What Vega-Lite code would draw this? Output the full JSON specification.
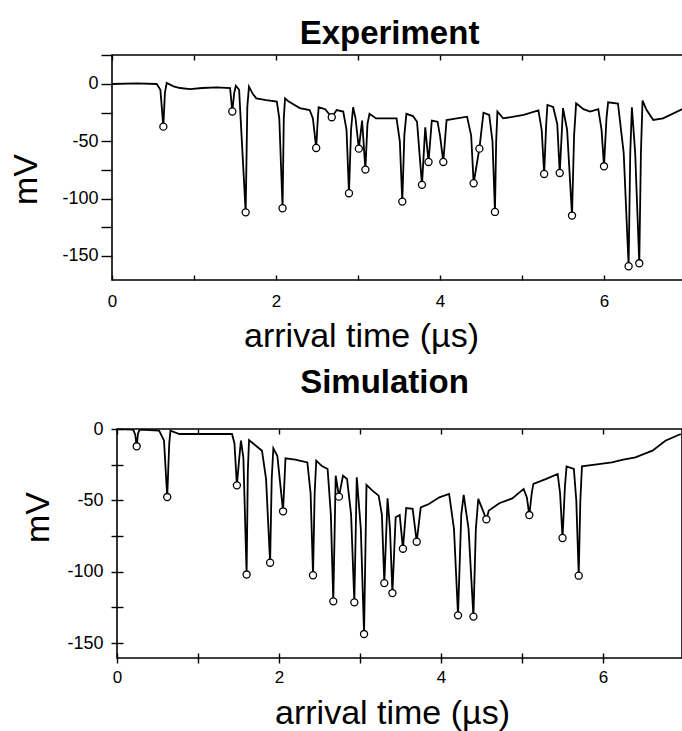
{
  "$schema": "https://vega.github.io/schema/vega-lite/v6.json",
  "autosize": {"type": "none"},
  "padding": {"left": 112, "top": 55, "right": 570, "bottom": 676},
  "background": "white",
  "bounds": "flush",
  "spacing": 149,
  "center": true,
  "config": {
    "font": "Liberation Sans",
    "view": {"stroke": "black", "strokeWidth": 1.6},
    "axis": {"domain": false, "grid": false, "tickColor": "black", "tickWidth": 1.4, "labelColor": "black", "titleColor": "black", "labelFont": "Liberation Sans", "titleFont": "Liberation Sans", "labelFontSize": 17, "titleFontSize": 34, "titleFontWeight": "normal", "labelFlush": false},
    "title": {"font": "Liberation Sans", "fontSize": 33, "fontWeight": "bold", "color": "black", "frame": "group", "anchor": "middle", "baseline": "alphabetic"}
  },
  "datasets": {
    "expTrace": [
      {"t":0,"mV":0},{"t":0.3,"mV":0.5},{"t":0.545,"mV":0},{"t":0.59,"mV":-5},{"t":0.626,"mV":-37.2},{"t":0.645,"mV":-8},{"t":0.667,"mV":1},{"t":0.75,"mV":-2},{"t":0.83,"mV":-3.5},{"t":0.95,"mV":-4.4},{"t":1.1,"mV":-3.5},{"t":1.28,"mV":-2.9},{"t":1.44,"mV":-3.5},{"t":1.467,"mV":-24},{"t":1.49,"mV":-8},{"t":1.51,"mV":-1.5},{"t":1.55,"mV":-5},{"t":1.63,"mV":-112},{"t":1.65,"mV":-20},{"t":1.67,"mV":-2.3},{"t":1.72,"mV":-9},{"t":1.76,"mV":-12.5},{"t":1.88,"mV":-14},{"t":2.01,"mV":-15.4},{"t":2.04,"mV":-30},{"t":2.08,"mV":-108.4},{"t":2.095,"mV":-30},{"t":2.11,"mV":-12.5},{"t":2.15,"mV":-15},{"t":2.29,"mV":-21},{"t":2.41,"mV":-22.7},{"t":2.45,"mV":-30},{"t":2.49,"mV":-55.8},{"t":2.51,"mV":-30},{"t":2.52,"mV":-20.3},{"t":2.6,"mV":-22},{"t":2.68,"mV":-29},{"t":2.74,"mV":-22.7},{"t":2.82,"mV":-24},{"t":2.86,"mV":-40},{"t":2.89,"mV":-95.3},{"t":2.915,"mV":-40},{"t":2.94,"mV":-20.3},{"t":2.97,"mV":-30},{"t":3.01,"mV":-56.4},{"t":3.05,"mV":-32},{"t":3.09,"mV":-74.7},{"t":3.115,"mV":-35},{"t":3.14,"mV":-26},{"t":3.22,"mV":-30},{"t":3.47,"mV":-30},{"t":3.51,"mV":-50},{"t":3.54,"mV":-102.6},{"t":3.565,"mV":-45},{"t":3.59,"mV":-26},{"t":3.67,"mV":-28},{"t":3.72,"mV":-33},{"t":3.78,"mV":-88},{"t":3.82,"mV":-37.8},{"t":3.86,"mV":-68},{"t":3.9,"mV":-32},{"t":3.97,"mV":-33},{"t":4.0,"mV":-45},{"t":4.04,"mV":-68},{"t":4.08,"mV":-31.4},{"t":4.33,"mV":-28.5},{"t":4.38,"mV":-45},{"t":4.41,"mV":-86.6},{"t":4.48,"mV":-56.4},{"t":4.53,"mV":-25},{"t":4.6,"mV":-27},{"t":4.64,"mV":-50},{"t":4.67,"mV":-111.6},{"t":4.685,"mV":-50},{"t":4.7,"mV":-24},{"t":4.77,"mV":-30},{"t":5.02,"mV":-27},{"t":5.2,"mV":-23},{"t":5.24,"mV":-40},{"t":5.27,"mV":-78.5},{"t":5.295,"mV":-35},{"t":5.31,"mV":-18.3},{"t":5.38,"mV":-20},{"t":5.43,"mV":-35},{"t":5.46,"mV":-77.6},{"t":5.5,"mV":-21},{"t":5.55,"mV":-40},{"t":5.61,"mV":-114.8},{"t":5.635,"mV":-45},{"t":5.66,"mV":-16.9},{"t":5.75,"mV":-22},{"t":5.83,"mV":-24},{"t":5.93,"mV":-22},{"t":5.97,"mV":-40},{"t":6.0,"mV":-71.8},{"t":6.03,"mV":-30},{"t":6.05,"mV":-16},{"t":6.17,"mV":-17},{"t":6.24,"mV":-60},{"t":6.3,"mV":-159},{"t":6.32,"mV":-60},{"t":6.34,"mV":-20.3},{"t":6.38,"mV":-60},{"t":6.43,"mV":-156.4},{"t":6.45,"mV":-60},{"t":6.47,"mV":-14.5},{"t":6.52,"mV":-22.7},{"t":6.6,"mV":-31.4},{"t":6.72,"mV":-30},{"t":6.95,"mV":-22},{"t":7.01,"mV":-20}
    ],
    "expPeaks": [
      {"t":0.626,"mV":-37.2},{"t":1.467,"mV":-24},{"t":1.63,"mV":-112},{"t":2.08,"mV":-108.4},{"t":2.49,"mV":-55.8},{"t":2.68,"mV":-29},{"t":2.89,"mV":-95.3},{"t":3.01,"mV":-56.4},{"t":3.09,"mV":-74.7},{"t":3.54,"mV":-102.6},{"t":3.78,"mV":-88},{"t":3.86,"mV":-68},{"t":4.04,"mV":-68},{"t":4.41,"mV":-86.6},{"t":4.48,"mV":-56.4},{"t":4.67,"mV":-111.6},{"t":5.27,"mV":-78.5},{"t":5.46,"mV":-77.6},{"t":5.61,"mV":-114.8},{"t":6.0,"mV":-71.8},{"t":6.3,"mV":-159},{"t":6.43,"mV":-156.4}
    ],
    "simTrace": [
      {"t":0,"mV":0},{"t":0.2,"mV":-0.5},{"t":0.225,"mV":-4},{"t":0.243,"mV":-12.1},{"t":0.26,"mV":-3},{"t":0.28,"mV":-0.5},{"t":0.52,"mV":-1.2},{"t":0.58,"mV":-8},{"t":0.62,"mV":-47.7},{"t":0.645,"mV":-10},{"t":0.66,"mV":-1.2},{"t":0.77,"mV":-3.5},{"t":1.0,"mV":-3.5},{"t":1.42,"mV":-3.5},{"t":1.45,"mV":-10},{"t":1.48,"mV":-39.5},{"t":1.51,"mV":-20},{"t":1.53,"mV":-8.2},{"t":1.56,"mV":-20},{"t":1.6,"mV":-102},{"t":1.615,"mV":-30},{"t":1.63,"mV":-7.7},{"t":1.7,"mV":-11},{"t":1.79,"mV":-15.2},{"t":1.84,"mV":-35},{"t":1.89,"mV":-93.7},{"t":1.91,"mV":-35},{"t":1.93,"mV":-13.5},{"t":1.98,"mV":-19},{"t":2.05,"mV":-57.7},{"t":2.08,"mV":-20.5},{"t":2.2,"mV":-21.5},{"t":2.35,"mV":-23.4},{"t":2.39,"mV":-45},{"t":2.42,"mV":-102.5},{"t":2.44,"mV":-45},{"t":2.46,"mV":-22.2},{"t":2.53,"mV":-26},{"t":2.6,"mV":-28},{"t":2.64,"mV":-60},{"t":2.67,"mV":-120.8},{"t":2.7,"mV":-32.7},{"t":2.74,"mV":-47.4},{"t":2.79,"mV":-32.7},{"t":2.84,"mV":-35},{"t":2.89,"mV":-60},{"t":2.93,"mV":-121.5},{"t":2.96,"mV":-33.9},{"t":3.01,"mV":-70},{"t":3.05,"mV":-143.7},{"t":3.08,"mV":-39.2},{"t":3.15,"mV":-43},{"t":3.23,"mV":-46.7},{"t":3.27,"mV":-60},{"t":3.3,"mV":-108},{"t":3.34,"mV":-48.6},{"t":3.37,"mV":-70},{"t":3.4,"mV":-115},{"t":3.44,"mV":-61.9},{"t":3.49,"mV":-60.3},{"t":3.53,"mV":-83.9},{"t":3.57,"mV":-55.4},{"t":3.65,"mV":-56},{"t":3.7,"mV":-79},{"t":3.75,"mV":-54.9},{"t":3.85,"mV":-52.6},{"t":3.98,"mV":-47.9},{"t":4.1,"mV":-45.5},{"t":4.16,"mV":-70},{"t":4.21,"mV":-130.6},{"t":4.25,"mV":-60},{"t":4.28,"mV":-46.2},{"t":4.34,"mV":-70},{"t":4.4,"mV":-131.5},{"t":4.43,"mV":-70},{"t":4.46,"mV":-49},{"t":4.56,"mV":-63.3},{"t":4.59,"mV":-57.2},{"t":4.72,"mV":-52},{"t":4.88,"mV":-48.6},{"t":5.02,"mV":-42},{"t":5.06,"mV":-48},{"t":5.09,"mV":-60.3},{"t":5.12,"mV":-45},{"t":5.14,"mV":-38.5},{"t":5.3,"mV":-35},{"t":5.44,"mV":-31.5},{"t":5.47,"mV":-45},{"t":5.5,"mV":-76.4},{"t":5.53,"mV":-40},{"t":5.55,"mV":-26.2},{"t":5.64,"mV":-28},{"t":5.67,"mV":-50},{"t":5.7,"mV":-102.8},{"t":5.72,"mV":-50},{"t":5.74,"mV":-26.2},{"t":5.9,"mV":-25},{"t":6.11,"mV":-23.4},{"t":6.25,"mV":-21.5},{"t":6.4,"mV":-19.9},{"t":6.61,"mV":-15.2},{"t":6.77,"mV":-8.2},{"t":6.96,"mV":-3.5}
    ],
    "simPeaks": [
      {"t":0.243,"mV":-12.1},{"t":0.62,"mV":-47.7},{"t":1.48,"mV":-39.5},{"t":1.6,"mV":-102},{"t":1.89,"mV":-93.7},{"t":2.05,"mV":-57.7},{"t":2.42,"mV":-102.5},{"t":2.67,"mV":-120.8},{"t":2.74,"mV":-47.4},{"t":2.93,"mV":-121.5},{"t":3.05,"mV":-143.7},{"t":3.3,"mV":-108},{"t":3.4,"mV":-115},{"t":3.53,"mV":-83.9},{"t":3.7,"mV":-79},{"t":4.21,"mV":-130.6},{"t":4.4,"mV":-131.5},{"t":4.56,"mV":-63.3},{"t":5.09,"mV":-60.3},{"t":5.5,"mV":-76.4},{"t":5.7,"mV":-102.8}
    ]
  },
  "vconcat": [
    {
      "width": 575,
      "height": 225,
      "title": {"text": "Experiment", "dx": -10, "offset": 3},
      "layer": [
        {
          "data": {"name": "expTrace"},
          "mark": {"type": "line", "color": "black", "strokeWidth": 1.8, "clip": true},
          "encoding": {
            "x": {"field": "t", "type": "quantitative", "scale": {"domain": [0, 7.012], "nice": false, "zero": false},
              "axis": {"orient": "bottom", "values": [0,1,2,3,4,5,6,7], "labelExpr": "datum.value % 2 == 0 ? datum.label : ''", "offset": -5, "tickSize": 5, "labelPadding": 13, "title": "arrival time (µs)", "titleX": 249, "titleY": 71, "titleAlign": "center", "titleBaseline": "alphabetic"}},
            "y": {"field": "mV", "type": "quantitative", "scale": {"domain": [-171, 25.3], "nice": false, "zero": false},
              "axis": {"orient": "left", "values": [-150,-125,-100,-75,-50,-25,0,25], "labelExpr": "datum.value % 50 == 0 ? (datum.value < 0 ? '-' + abs(datum.value) : '' + datum.value) : ''", "tickSize": 11, "labelPadding": 3, "labelFontSize": 18, "title": "mV", "titleX": -76, "titleY": 124, "titleAngle": 270, "titleAlign": "center", "titleBaseline": "alphabetic"}}
          }
        },
        {
          "data": {"name": "expPeaks"},
          "mark": {"type": "point", "shape": "circle", "fill": "white", "stroke": "black", "strokeWidth": 1.3, "size": 50, "opacity": 1, "filled": true},
          "encoding": {
            "x": {"field": "t", "type": "quantitative", "axis": {"orient": "top", "values": [0,1,2,3,4,5,6,7], "labels": false, "offset": -5, "tickSize": 5, "title": null}},
            "y": {"field": "mV", "type": "quantitative", "axis": {"orient": "right", "values": [0,-50,-100,-150], "labels": false, "offset": -5, "tickSize": 5, "title": null}}
          }
        }
      ],
      "resolve": {"axis": {"x": "independent", "y": "independent"}}
    },
    {
      "width": 565,
      "height": 229,
      "title": {"text": "Simulation", "dx": -15, "offset": 20},
      "layer": [
        {
          "data": {"name": "simTrace"},
          "mark": {"type": "line", "color": "black", "strokeWidth": 1.8, "clip": true},
          "encoding": {
            "x": {"field": "t", "type": "quantitative", "scale": {"domain": [0, 6.975], "nice": false, "zero": false},
              "axis": {"orient": "bottom", "values": [0,1,2,3,4,5,6], "labelExpr": "datum.value % 2 == 0 ? datum.label : ''", "offset": -5, "tickSize": 10, "labelPadding": 6, "title": "arrival time (µs)", "titleX": 275, "titleY": 70, "titleAlign": "center", "titleBaseline": "alphabetic"}},
            "y": {"field": "mV", "type": "quantitative", "scale": {"domain": [-160.5, 0], "nice": false, "zero": false},
              "axis": {"orient": "left", "values": [-150,-125,-100,-75,-50,-25,0], "labelExpr": "datum.value % 50 == 0 ? (datum.value < 0 ? '-' + abs(datum.value) : '' + datum.value) : ''", "offset": -6, "tickSize": 12, "labelPadding": 8, "labelFontSize": 18, "title": "mV", "titleX": -75, "titleY": 88, "titleAngle": 270, "titleAlign": "center", "titleBaseline": "alphabetic"}}
          }
        },
        {
          "data": {"name": "simPeaks"},
          "mark": {"type": "point", "shape": "circle", "fill": "white", "stroke": "black", "strokeWidth": 1.3, "size": 50, "opacity": 1, "filled": true},
          "encoding": {
            "x": {"field": "t", "type": "quantitative", "axis": {"orient": "top", "values": [0,1,2,3,4,5,6], "labels": false, "offset": -5, "tickSize": 5, "title": null}},
            "y": {"field": "mV", "type": "quantitative", "axis": null}
          }
        }
      ],
      "resolve": {"axis": {"x": "independent", "y": "independent"}}
    }
  ]
}
